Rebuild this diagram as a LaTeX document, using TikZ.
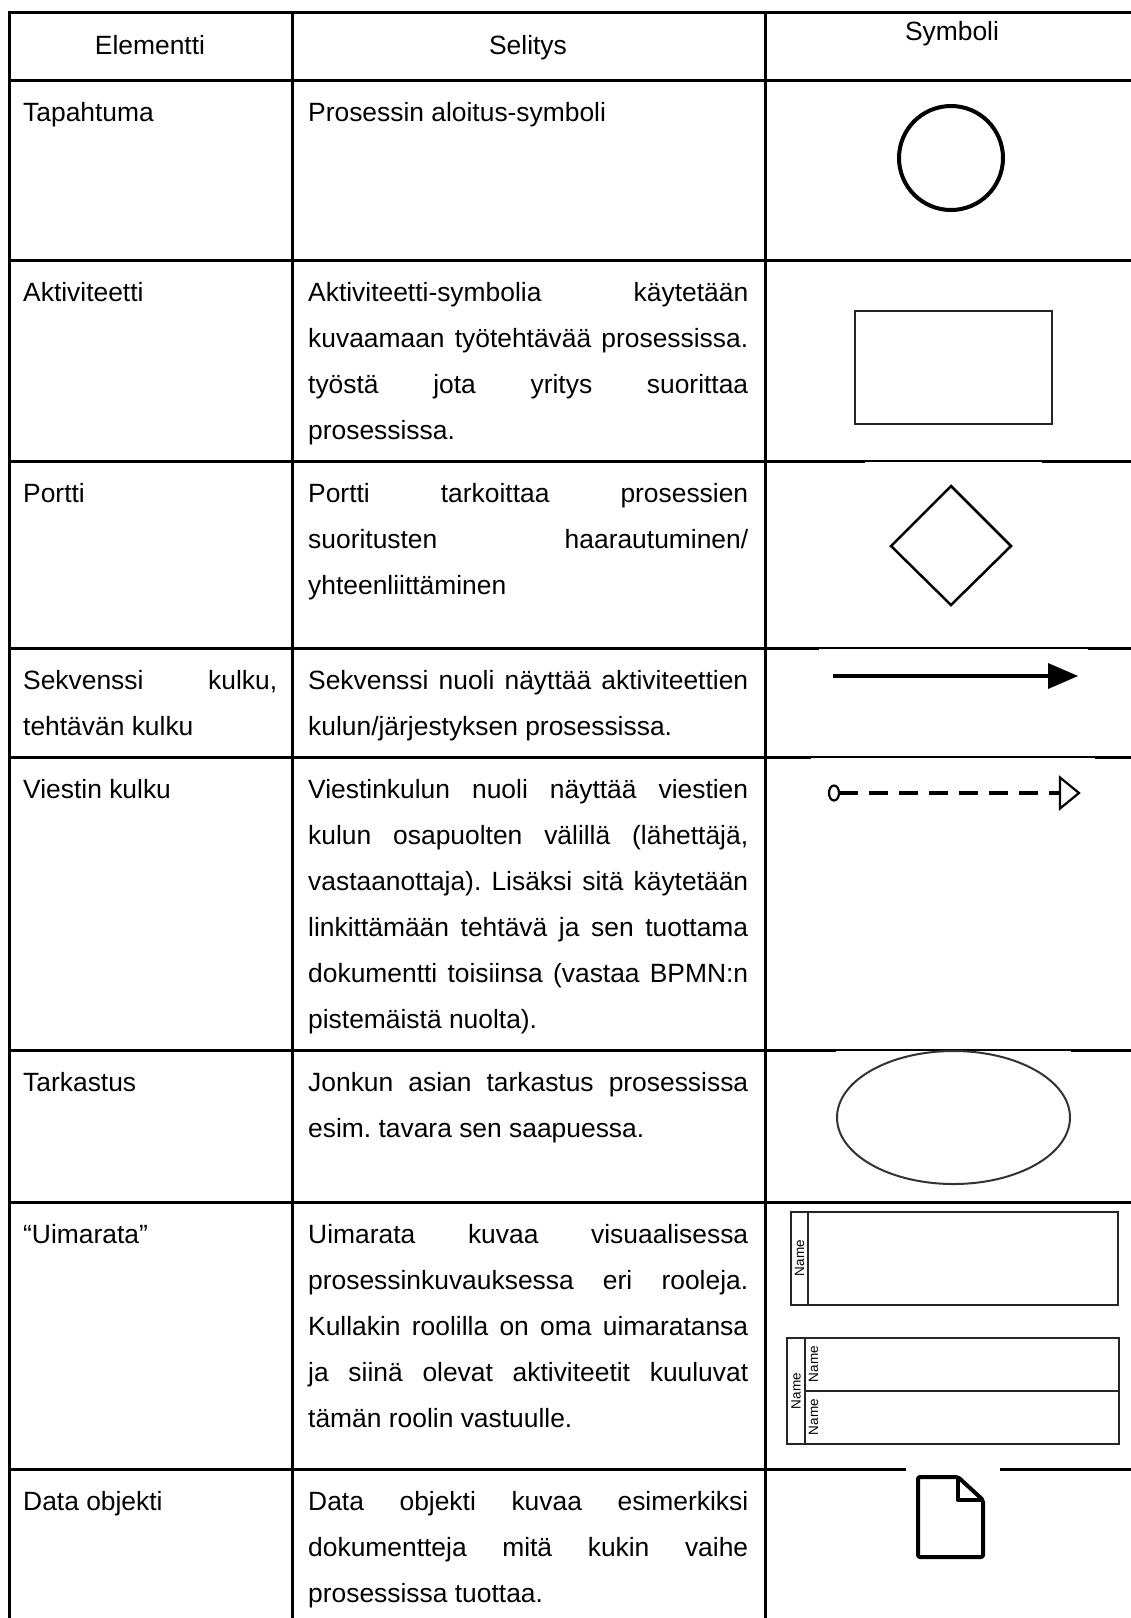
\documentclass[tikz,border=0pt]{standalone}
\usepackage{fontspec}
\setmainfont{Liberation Sans}
\usetikzlibrary{calc}
\frenchspacing
\newcommand{\justline}[2][440pt]{\makebox[#1][s]{#2}}
\newcommand{\firstrow}{\rule{0pt}{30pt}}
\begin{document}
\begin{tikzpicture}[x=1pt,y=-1pt,
  rule/.style={line width=3pt, black},
  thinrule/.style={line width=1.2pt, black},
  body/.style={inner sep=0pt, font=\fontsize{26.4}{46}\selectfont},
  txt/.style={body, anchor=base west},
  para/.style={body, anchor=north west, align=left},
  hdr/.style={body, anchor=base},
  lane/.style={line width=2pt, black!85},
  lanetext/.style={inner sep=0pt, rotate=90, font=\fontsize{13.5}{14}\selectfont},
  symline/.style={line width=4pt, black, line join=round}
]
\useasboundingbox (0,0) rectangle (1131,1618);

% ---------- table grid ----------
\draw[rule] (1131,12) -- (9,12) -- (9,1618);
\draw[rule] (292,12) -- (292,1618);
\draw[rule] (765,12) -- (765,1618);
\draw[rule] (9,80) -- (1131,80);
\draw[rule] (9,260) -- (1131,260);
\draw[rule] (9,461) -- (865,461);   \draw[thinrule] (865,461) -- (1042,461);  \draw[rule] (1042,461) -- (1131,461);
\draw[rule] (9,648) -- (819,648);   \draw[thinrule] (819,648) -- (1088,648);  \draw[rule] (1088,648) -- (1131,648);
\draw[rule] (9,757) -- (811,757);   \draw[thinrule] (811,757) -- (1095,757);  \draw[rule] (1095,757) -- (1131,757);
\draw[rule] (9,1050) -- (836,1050); \draw[thinrule] (836,1050) -- (1071,1050); \draw[rule] (1071,1050) -- (1131,1050);
\draw[rule] (9,1202) -- (1131,1202);
\draw[rule] (9,1469) -- (906,1469); \draw[rule] (1000,1469) -- (1131,1469);

% ---------- header ----------
\node[hdr] (hElem) at (150,54) {Elementti};
\node[hdr] (hSel)  at (528,54) {Selitys};
\node[hdr] (hSym)  at (952,40) {Symboli};

% ---------- first column ----------
\node[txt] (e1) at (23,121.5)  {Tapahtuma};
\node[txt] (e2) at (23,301.5)  {Aktiviteetti};
\node[txt] (e3) at (23,502.5)  {Portti};
\node[para] (e4) at (23,659.5) {\firstrow\justline[254pt]{Sekvenssi kulku,}\\tehtävän kulku};
\node[txt] (e5) at (23,798.5)  {Viestin kulku};
\node[txt] (e6) at (23,1091.5) {Tarkastus};
\node[txt] (e7) at (23,1243.5) {“Uimarata”};
\node[txt] (e8) at (23,1510.5) {Data objekti};

% ---------- second column ----------
\node[txt] (d1) at (308,121.5) {Prosessin aloitus-symboli};
\node[para] (d2) at (308,271.5) {\firstrow\justline{Aktiviteetti-symbolia käytetään}\\
  \justline{kuvaamaan työtehtävää prosessissa.}\\
  \justline{työstä jota yritys suorittaa}\\
  prosessissa.};
\node[para] (d3) at (308,472.5) {\firstrow\justline{Portti tarkoittaa prosessien}\\
  \justline{suoritusten haarautuminen/}\\
  yhteenliittäminen};
\node[para] (d4) at (308,659.5) {\firstrow\justline{Sekvenssi nuoli näyttää aktiviteettien}\\
  kulun/järjestyksen prosessissa.};
\node[para] (d5) at (308,768.5) {\firstrow\justline{Viestinkulun nuoli näyttää viestien}\\
  \justline{kulun osapuolten välillä (lähettäjä,}\\
  \justline{vastaanottaja). Lisäksi sitä käytetään}\\
  \justline{linkittämään tehtävä ja sen tuottama}\\
  \justline{dokumentti toisiinsa (vastaa BPMN:n}\\
  pistemäistä nuolta).};
\node[para] (d6) at (308,1061.5) {\firstrow\justline{Jonkun asian tarkastus prosessissa}\\
  esim. tavara sen saapuessa.};
\node[para] (d7) at (308,1213.5) {\firstrow\justline{Uimarata kuvaa visuaalisessa}\\
  \justline{prosessinkuvauksessa eri rooleja.}\\
  \justline{Kullakin roolilla on oma uimaratansa}\\
  \justline{ja siinä olevat aktiviteetit kuuluvat}\\
  tämän roolin vastuulle.};
\node[para] (d8) at (308,1480.5) {\firstrow\justline{Data objekti kuvaa esimerkiksi}\\
  \justline{dokumentteja mitä kukin vaihe}\\
  prosessissa tuottaa.};

% ---------- symbols ----------
% start event
\node[circle, draw, line width=4pt, minimum size=104pt, inner sep=0pt] (startev) at (951,158) {};
% activity
\node[rectangle, draw=black!85, line width=2pt, minimum width=197pt, minimum height=113pt, inner sep=0pt] (task) at (953.5,367.5) {};
% gateway
\draw[line width=2.5pt, line join=miter] (951,486) -- (1011,546) -- (951,605) -- (891,546) -- cycle;
% sequence flow
\coordinate (sfA) at (833,676);
\coordinate (sfB) at (1050,676);
\coordinate (sfTip) at (1078,676);
\draw[line width=4pt] (sfA) -- (sfB);
\fill ($(sfB)+(-2,-13)$) -- (sfTip) -- ($(sfB)+(-2,13)$) -- cycle;
% message flow
\coordinate (mfA) at (834,793);
\coordinate (mfB) at (1060,793);
\coordinate (mfTip) at (1079,793);
\draw[line width=4.5pt, dash pattern=on 19pt off 11pt] (839,793) -- (mfB);
\draw[line width=2.2pt, fill=white] (mfA) ellipse[x radius=5, y radius=7.5];
\draw[line width=2.2pt, fill=white, line join=miter] ($(mfB)+(0,-15.5)$) -- (mfTip) -- ($(mfB)+(0,15.5)$) -- cycle;
% inspection
\draw[line width=2pt, black!80] (953.5,1117.5) ellipse[x radius=116.5, y radius=66.5];
% single lane
\draw[lane] (791,1212) rectangle (1118,1305);
\draw[lane] (808,1212) -- (808,1305);
\node[lanetext] (ln1) at (799.5,1258) {Name};
% pool with two lanes
\draw[lane] (787,1338) rectangle (1119,1444);
\draw[lane] (805,1338) -- (805,1444);
\draw[lane] (805,1391) -- (1119,1391);
\node[lanetext] (pl)  at (796,1391)  {Name};
\node[lanetext] (ln2) at (813.5,1364) {Name};
\node[lanetext] (ln3) at (813.5,1417) {Name};
% data object
\draw[symline, rounded corners=2pt] (918,1477) -- (958,1477) -- (983,1500) -- (983,1557) -- (918,1557) -- cycle;
\draw[symline] (958,1477) -- (958,1500) -- (983,1500);
\end{tikzpicture}
\end{document}
